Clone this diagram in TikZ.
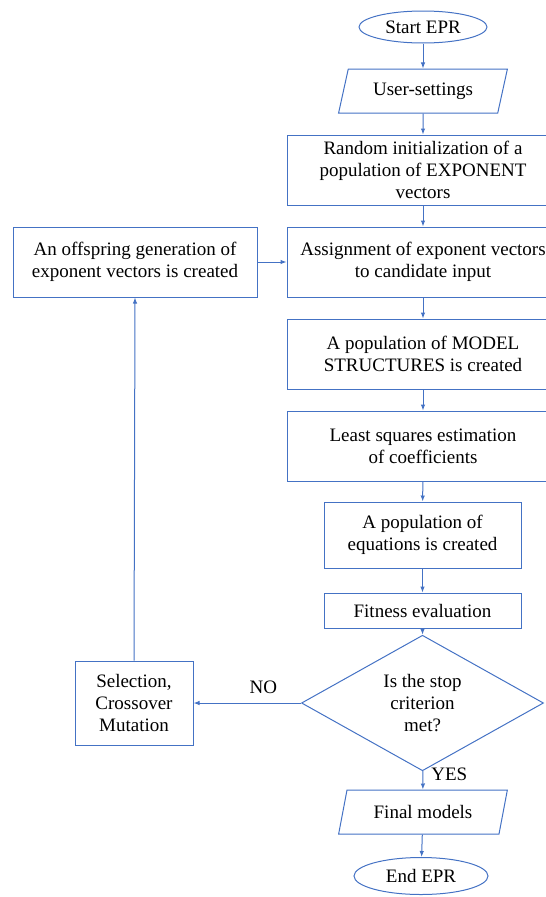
\documentclass[tikz,border=0pt]{standalone}
\usepackage{fontspec}
\setmainfont{Liberation Serif}
\usepackage{tikz}
\usetikzlibrary{arrows.meta,shapes.geometric}
\definecolor{flowblue}{RGB}{68,114,196}

\begin{document}
\begin{tikzpicture}[x=1pt,y=-1pt,
    every node/.style={font=\fontsize{19}{22}\selectfont, align=center, inner sep=2pt},
    box/.style={draw=flowblue, line width=1pt, rectangle},
    term/.style={draw=flowblue, line width=1pt, ellipse, inner sep=0pt},
    io/.style={draw=flowblue, line width=1pt, trapezium, trapezium left angle=72, trapezium right angle=108, trapezium stretches=true, minimum width=169pt, minimum height=44pt},
    decide/.style={draw=flowblue, line width=1pt, diamond, inner sep=0pt},
    flow/.style={draw=flowblue, line width=1pt, -{Latex[length=6pt,width=4.5pt]}}]
  \useasboundingbox (0,0) rectangle (546,897);
  \node[term, minimum width=128pt, minimum height=32pt] (start) at (423,27) {Start EPR};
  \node[io] (user) at (423,91) {User-settings};
  \node[box, minimum width=272pt, minimum height=70pt] (init) at (423,170) {Random initialization of a\\population of EXPONENT\\vectors};
  \node[box, minimum width=272pt, minimum height=70pt] (assign) at (423,262) {Assignment of exponent vectors\\to candidate input};
  \node[box, minimum width=244pt, minimum height=70pt] (offspr) at (135,262) {An offspring generation of\\exponent vectors is created};
  \node[box, minimum width=272pt, minimum height=70pt] (model) at (423,354) {A population of MODEL\\STRUCTURES is created};
  \node[box, minimum width=272pt, minimum height=70pt] (lsq) at (423,446) {Least squares estimation\\of coefficients};
  \node[box, minimum width=197pt, minimum height=66pt] (popeq) at (422.5,535) {A population of\\equations is created};
  \node[box, minimum width=197pt, minimum height=35pt] (fit) at (422.5,610.5) {Fitness evaluation};
  \node[decide, minimum width=242pt, minimum height=106pt] (dia) at (422.5,703) {Is the stop\\criterion\\met?};
  \node[box, minimum width=118pt, minimum height=84pt] (sel) at (134,703) {Selection,\\Crossover\\Mutation};
  \node[io] (final) at (423,812) {Final models};
  \node[term, minimum width=134pt, minimum height=37pt] (endn) at (421,876) {End EPR};
  \draw[flow] (start) -- (user);
  \draw[flow] (user) -- (init);
  \draw[flow] (init) -- (assign);
  \draw[flow] (assign) -- (model);
  \draw[flow] (model) -- (lsq);
  \draw[flow] (lsq) -- (popeq);
  \draw[flow] (popeq) -- (fit);
  \draw[flow] (fit) -- (dia);
  \draw[flow] (dia) -- node[right=6pt, pos=0.2] (yes) {YES} (final);
  \draw[flow] (final) -- (endn);
  \draw[flow] (dia.west) -- node[above=7pt, pos=0.35] (no) {NO} (sel.east);
  \draw[flow] (sel.north) -- (offspr.south);
  \draw[flow] (offspr.east) -- (assign.west);
\end{tikzpicture}
\end{document}
